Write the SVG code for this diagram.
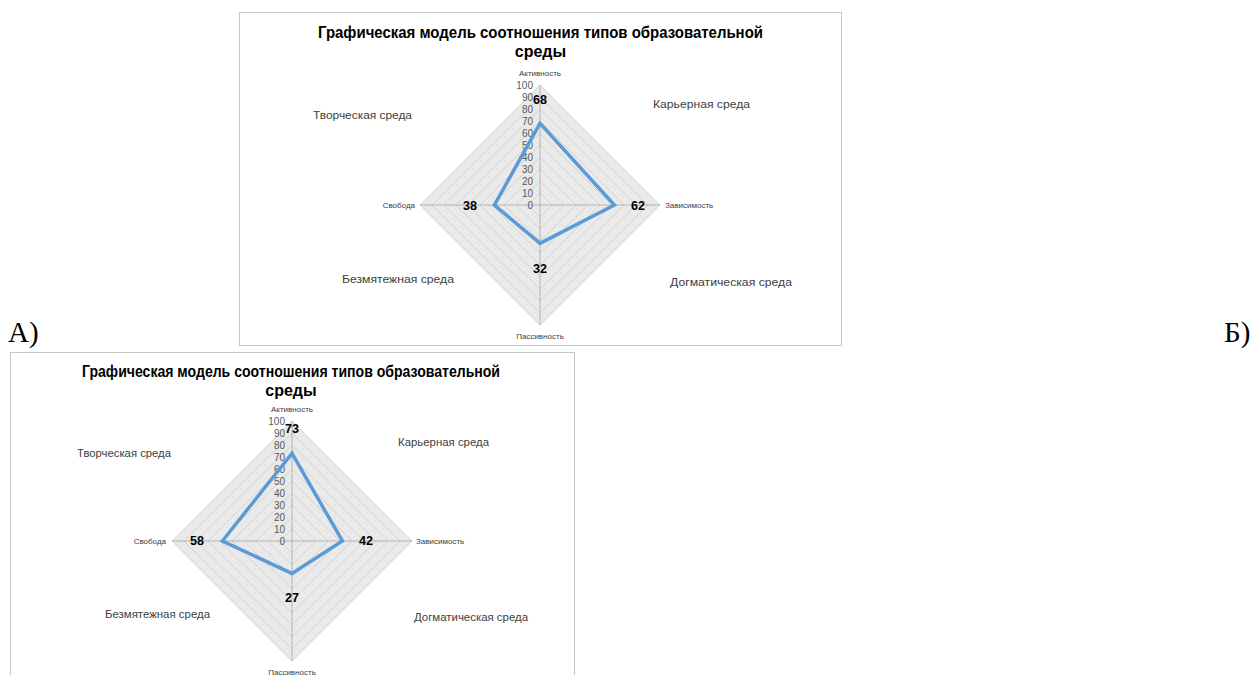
<svg xmlns="http://www.w3.org/2000/svg" xmlns:xlink="http://www.w3.org/1999/xlink" width="1259" height="675" viewBox="0 0 1259 675">
<style>
.frame{fill:#ffffff;stroke:#c6c6c6;stroke-width:1}
.title{font-family:"Liberation Sans",Arial,sans-serif;font-weight:bold;font-size:16px;fill:#000;text-anchor:middle}
.cat{font-family:"Liberation Sans",Arial,sans-serif;font-size:11.5px;fill:#404040}
.axis{font-family:"Liberation Sans",Arial,sans-serif;font-size:8px;fill:#404040}
.tick{font-family:"Liberation Sans",Arial,sans-serif;font-size:10px;fill:#595959;text-anchor:end}
.val{font-family:"Liberation Sans",Arial,sans-serif;font-weight:bold;font-size:12.5px;fill:#000;text-anchor:middle}
.series{fill:none;stroke:#5b9bd5;stroke-width:3.5;stroke-linejoin:miter}
.letter{font-family:"Liberation Serif","Times New Roman",serif;font-size:29px;fill:#000}
.mid{text-anchor:middle}
.end{text-anchor:end}
</style>
<defs>
<g id="radarGrid">
<polygon points="0,-120 120,0 0,120 -120,0" fill="#efefef"/>
<path fill="none" stroke="#d4d4d4" stroke-width="0.5" d="M0,-2.4L2.4,0L0,2.4L-2.4,0Z M0,-4.8L4.8,0L0,4.8L-4.8,0Z M0,-7.2L7.2,0L0,7.2L-7.2,0Z M0,-9.6L9.6,0L0,9.6L-9.6,0Z M0,-14.4L14.4,0L0,14.4L-14.4,0Z M0,-16.8L16.8,0L0,16.8L-16.8,0Z M0,-19.2L19.2,0L0,19.2L-19.2,0Z M0,-21.6L21.6,0L0,21.6L-21.6,0Z M0,-26.4L26.4,0L0,26.4L-26.4,0Z M0,-28.8L28.8,0L0,28.8L-28.8,0Z M0,-31.2L31.2,0L0,31.2L-31.2,0Z M0,-33.6L33.6,0L0,33.6L-33.6,0Z M0,-38.4L38.4,0L0,38.4L-38.4,0Z M0,-40.8L40.8,0L0,40.8L-40.8,0Z M0,-43.2L43.2,0L0,43.2L-43.2,0Z M0,-45.6L45.6,0L0,45.6L-45.6,0Z M0,-50.4L50.4,0L0,50.4L-50.4,0Z M0,-52.8L52.8,0L0,52.8L-52.8,0Z M0,-55.2L55.2,0L0,55.2L-55.2,0Z M0,-57.6L57.6,0L0,57.6L-57.6,0Z M0,-62.4L62.4,0L0,62.4L-62.4,0Z M0,-64.8L64.8,0L0,64.8L-64.8,0Z M0,-67.2L67.2,0L0,67.2L-67.2,0Z M0,-69.6L69.6,0L0,69.6L-69.6,0Z M0,-74.4L74.4,0L0,74.4L-74.4,0Z M0,-76.8L76.8,0L0,76.8L-76.8,0Z M0,-79.2L79.2,0L0,79.2L-79.2,0Z M0,-81.6L81.6,0L0,81.6L-81.6,0Z M0,-86.4L86.4,0L0,86.4L-86.4,0Z M0,-88.8L88.8,0L0,88.8L-88.8,0Z M0,-91.2L91.2,0L0,91.2L-91.2,0Z M0,-93.6L93.6,0L0,93.6L-93.6,0Z M0,-98.4L98.4,0L0,98.4L-98.4,0Z M0,-100.8L100.8,0L0,100.8L-100.8,0Z M0,-103.2L103.2,0L0,103.2L-103.2,0Z M0,-105.6L105.6,0L0,105.6L-105.6,0Z M0,-110.4L110.4,0L0,110.4L-110.4,0Z M0,-112.8L112.8,0L0,112.8L-112.8,0Z M0,-115.2L115.2,0L0,115.2L-115.2,0Z M0,-117.6L117.6,0L0,117.6L-117.6,0Z"/>
<path fill="none" stroke="#bdbdbd" stroke-width="0.7" d="M0,-12L12,0L0,12L-12,0Z M0,-24L24,0L0,24L-24,0Z M0,-36L36,0L0,36L-36,0Z M0,-48L48,0L0,48L-48,0Z M0,-60L60,0L0,60L-60,0Z M0,-72L72,0L0,72L-72,0Z M0,-84L84,0L0,84L-84,0Z M0,-96L96,0L0,96L-96,0Z M0,-108L108,0L0,108L-108,0Z M0,-120L120,0L0,120L-120,0Z"/>
<path fill="none" stroke="#a6a6a6" stroke-width="0.8" d="M0,-120V120 M-120,0H120"/>
<g class="tick">
<text x="-7" y="4">0</text><text x="-7" y="-8">10</text><text x="-7" y="-20">20</text><text x="-7" y="-32">30</text><text x="-7" y="-44">40</text><text x="-7" y="-56">50</text><text x="-7" y="-68">60</text><text x="-7" y="-80">70</text><text x="-7" y="-92">80</text><text x="-7" y="-104">90</text><text x="-7" y="-116">100</text>
</g>
</g>
</defs>

<text class="letter" x="8" y="342">А)</text>
<text class="letter" x="1224" y="342">Б)</text>

<g id="chartA">
<rect class="frame" x="239.5" y="12.5" width="602" height="333"/>
<text class="title" x="540.5" y="38" textLength="445" lengthAdjust="spacingAndGlyphs">Графическая модель соотношения типов образовательной</text>
<text class="title" x="540.5" y="57">среды</text>
<use xlink:href="#radarGrid" transform="translate(540,205)"/>
<polygon class="series" points="540,123.4 614.4,205 540,243.4 494.4,205"/>
<text class="val" x="540" y="104">68</text>
<text class="val" x="638" y="210">62</text>
<text class="val" x="540" y="273">32</text>
<text class="val" x="470" y="210">38</text>
<text class="axis mid" x="540" y="76">Активность</text>
<text class="axis mid" x="540" y="339">Пассивность</text>
<text class="axis end" x="415" y="208">Свобода</text>
<text class="axis" x="665" y="208">Зависимость</text>
<text class="cat" x="313" y="119" textLength="99" lengthAdjust="spacingAndGlyphs">Творческая среда</text>
<text class="cat" x="653" y="108" textLength="97" lengthAdjust="spacingAndGlyphs">Карьерная среда</text>
<text class="cat" x="342" y="283" textLength="112" lengthAdjust="spacingAndGlyphs">Безмятежная среда</text>
<text class="cat" x="670" y="286" textLength="122" lengthAdjust="spacingAndGlyphs">Догматическая среда</text>
</g>

<g id="chartB">
<rect class="frame" x="10.5" y="352.5" width="564" height="340"/>
<text class="title" x="291" y="377" textLength="418" lengthAdjust="spacingAndGlyphs">Графическая модель соотношения типов образовательной</text>
<text class="title" x="291" y="396">среды</text>
<use xlink:href="#radarGrid" transform="translate(292,541)"/>
<polygon class="series" points="292,453.4 342.4,541 292,573.4 222.4,541"/>
<text class="val" x="292" y="433">73</text>
<text class="val" x="366" y="545">42</text>
<text class="val" x="292" y="602">27</text>
<text class="val" x="197" y="545">58</text>
<text class="axis mid" x="292" y="412">Активность</text>
<text class="axis mid" x="292" y="675">Пассивность</text>
<text class="axis end" x="166" y="544">Свобода</text>
<text class="axis" x="416" y="544">Зависимость</text>
<text class="cat" x="77" y="457" textLength="94" lengthAdjust="spacingAndGlyphs">Творческая среда</text>
<text class="cat" x="398" y="446" textLength="91" lengthAdjust="spacingAndGlyphs">Карьерная среда</text>
<text class="cat" x="105" y="618" textLength="105" lengthAdjust="spacingAndGlyphs">Безмятежная среда</text>
<text class="cat" x="414" y="621" textLength="114" lengthAdjust="spacingAndGlyphs">Догматическая среда</text>
</g>
</svg>
